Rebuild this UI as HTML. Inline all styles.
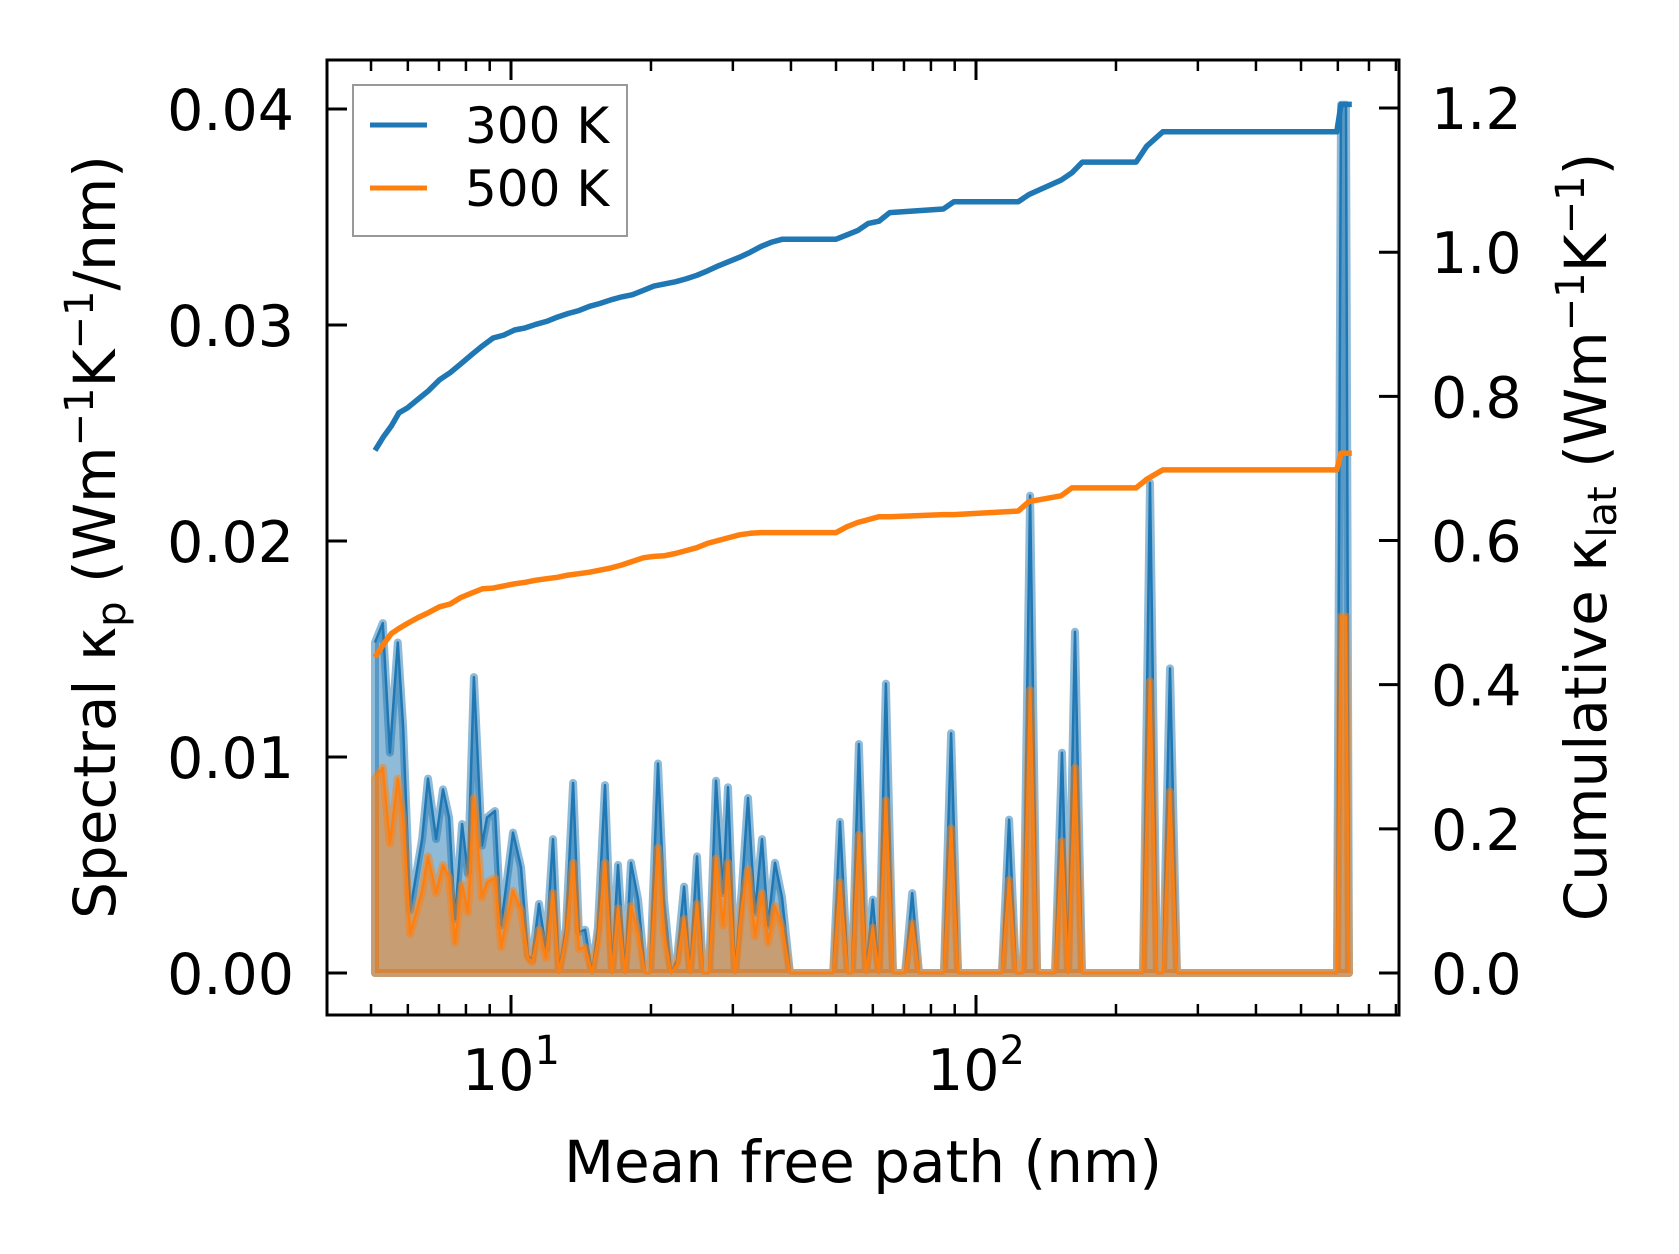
<!DOCTYPE html>
<html><head><meta charset="utf-8"><style>
body{margin:0;background:#fff}
svg{display:block;font-family:"DejaVu Sans","Liberation Sans",sans-serif}
</style></head><body>
<svg id="chart" width="1679" height="1254" viewBox="0 0 1679 1254">
<rect width="1679" height="1254" fill="#fff"/>
<g id="marks"></g>
<g id="axes"></g>
<g>
<rect x="353" y="85" width="274" height="151" fill="#fff" fill-opacity="0.8" stroke="#999" stroke-width="2"/>
<line x1="370" y1="125" x2="427" y2="125" stroke="#1f77b4" stroke-width="5"/>
<text x="465" y="143" font-size="50">300 K</text>
<line x1="370" y1="188" x2="427" y2="188" stroke="#ff7f0e" stroke-width="5"/>
<text x="465" y="206" font-size="50">500 K</text>
</g>
<text x="863" y="1182" font-size="58" text-anchor="middle">Mean free path (nm)</text>
<text transform="translate(115,537) rotate(-90)" font-size="58" text-anchor="middle">Spectral κ<tspan font-size="40" dy="10">p</tspan><tspan dy="-10"> (Wm</tspan><tspan font-size="40" dy="-22">−1</tspan><tspan dy="22">K</tspan><tspan font-size="40" dy="-22">−1</tspan><tspan dy="22">/nm)</tspan></text>
<text transform="translate(1606,537) rotate(-90)" font-size="58" text-anchor="middle">Cumulative κ<tspan font-size="40" dy="10">lat</tspan><tspan dy="-10"> (Wm</tspan><tspan font-size="40" dy="-22">−1</tspan><tspan dy="22">K</tspan><tspan font-size="40" dy="-22">−1</tspan><tspan dy="22">)</tspan></text>
</svg>
<script>
// spectral data (shared MFP grid, nm)
const specMfp = [5.10,5.30,5.49,5.71,5.86,6.07,6.44,6.63,6.90,7.14,7.36,7.58,7.85,8.08,8.32,8.66,8.88,9.24,9.52,10.10,10.51,10.88,11.10,11.49,11.89,12.31,12.68,13.13,13.60,14.00,14.43,14.94,15.38,15.93,16.49,16.99,17.59,18.12,18.76,19.42,19.90,20.71,21.33,22.09,22.75,23.56,24.27,25.12,25.88,26.66,27.60,28.58,29.29,30.32,31.39,32.34,33.48,34.66,35.71,36.97,38.27,39.81,
49.3,51.0,53.0,54.1,56.0,58.0,60.0,61.8,64.0,66.3,70.4,72.9,75.4,85.3,88.4,91.5,113.7,117.8,121.9,126.2,130.7,135.3,147.9,153.1,157.7,163.3,169.0,228.6,236.7,245.0,252.4,261.3,270.6,597.5,609.4,624.8,634.2];
const spec300 = [0.0153,0.0162,0.0102,0.0153,0.0114,0.0029,0.0062,0.0090,0.0062,0.0085,0.0072,0.0025,0.0069,0.0046,0.0137,0.0059,0.0072,0.0075,0.0022,0.0065,0.0049,0.0008,0.0006,0.0032,0.0011,0.0062,0.0001,0.0021,0.0088,0.0019,0.0020,0.0,0.0021,0.0087,0.0,0.0050,0.0,0.0051,0.0034,0.0,0.0,0.0097,0.0034,0.0,0.0006,0.0040,0.0,0.0054,0.0,0.0,0.0089,0.0037,0.0086,0.0,0.0040,0.0081,0.0028,0.0062,0.0022,0.0051,0.0035,0.0,
0.0,0.0070,0.0,0.0,0.0106,0.0,0.0034,0.0,0.0134,0.0,0.0,0.0037,0.0,0.0,0.0111,0.0,0.0,0.0071,0.0,0.0,0.0221,0.0,0.0,0.0102,0.0,0.0158,0.0,0.0,0.0227,0.0,0.0,0.0141,0.0,0.0,0.0402,0.0402,0.0];
const spec500 = [0.0090,0.0095,0.0060,0.0090,0.0071,0.0018,0.0038,0.0054,0.0037,0.0050,0.0044,0.0014,0.0041,0.0028,0.0081,0.0035,0.0042,0.0044,0.0012,0.0038,0.0029,0.0007,0.0005,0.0020,0.0007,0.0037,0.0,0.0017,0.0051,0.0011,0.0012,0.0,0.0015,0.0051,0.0,0.0030,0.0,0.0031,0.0018,0.0,0.0,0.0058,0.0018,0.0,0.0004,0.0025,0.0,0.0032,0.0,0.0,0.0053,0.0022,0.0051,0.0,0.0031,0.0048,0.0017,0.0037,0.0014,0.0031,0.0021,0.0,
0.0,0.0042,0.0,0.0,0.0064,0.0,0.0021,0.0,0.0080,0.0,0.0,0.0023,0.0,0.0,0.0067,0.0,0.0,0.0043,0.0,0.0,0.0131,0.0,0.0,0.0061,0.0,0.0095,0.0,0.0,0.0135,0.0,0.0,0.0084,0.0,0.0,0.0165,0.0165,0.0];
// cumulative data
const cumMfp = [5.10,5.32,5.53,5.74,5.99,6.31,6.65,7.02,7.40,7.80,8.23,8.68,9.15,9.65,10.18,10.73,11.32,11.93,12.58,13.27,13.99,14.76,15.56,16.41,17.30,18.25,19.24,20.29,21.40,22.56,23.79,25.09,26.45,27.90,29.42,31.02,32.71,34.50,36.38,38.36,50.02,52.75,55.63,58.66,61.85,65.22,85.06,89.70,123.3,130.0,152.4,160.7,169.4,220.9,232.9,252.2,597.0,609.4,643.0];
const cum300 = [0.725,0.744,0.759,0.777,0.784,0.796,0.808,0.823,0.833,0.845,0.858,0.870,0.881,0.885,0.892,0.895,0.900,0.904,0.910,0.915,0.919,0.925,0.929,0.934,0.938,0.941,0.947,0.953,0.956,0.959,0.963,0.968,0.974,0.981,0.987,0.993,1.000,1.008,1.014,1.018,1.018,1.024,1.030,1.040,1.043,1.055,1.060,1.070,1.070,1.080,1.100,1.110,1.125,1.125,1.147,1.167,1.167,1.205,1.205];
const cum500 = [0.438,0.456,0.471,0.478,0.485,0.493,0.500,0.508,0.512,0.521,0.527,0.533,0.534,0.537,0.540,0.542,0.545,0.547,0.549,0.552,0.554,0.556,0.559,0.562,0.566,0.571,0.576,0.578,0.579,0.582,0.586,0.590,0.596,0.600,0.604,0.608,0.610,0.611,0.611,0.611,0.611,0.619,0.625,0.629,0.633,0.633,0.636,0.636,0.641,0.654,0.662,0.673,0.673,0.673,0.685,0.698,0.698,0.721,0.721];
const leftTicks = [0,0.01,0.02,0.03,0.04];
const leftTickLabels = ["0.00","0.01","0.02","0.03","0.04"];
const rightTicks = [0,0.2,0.4,0.6,0.8,1.0,1.2];
const rightTickLabels = ["0.0","0.2","0.4","0.6","0.8","1.0","1.2"];
const xMajor = [10,100];
const xMajorExp = ["1","2"];
const xMinor = [5,6,7,8,9,20,30,40,50,60,70,80,90,200,300,400,500,600,700,800];

const L=327,R=1399,T=60,B=1015;
const xs = v => 511 + 465*(Math.log10(v)-1);
const yl = v => 973 - v*21600;
const yr = v => 973 - v*720.8;
const NS="http://www.w3.org/2000/svg";
const marks=document.getElementById('marks'), axes=document.getElementById('axes');
function mk(tag,attrs,parent){const e=document.createElementNS(NS,tag);for(const k in attrs)e.setAttribute(k,attrs[k]);parent.appendChild(e);return e;}
function pts(xa,ya,fy){return xa.map((x,i)=>xs(x).toFixed(1)+','+fy(ya[i]).toFixed(1)).join(' ');}
function area(xa,ya){const p=pts(xa,ya,yl);return xs(xa[0]).toFixed(1)+','+yl(0)+' '+p+' '+xs(xa[xa.length-1]).toFixed(1)+','+yl(0);}

let e;
e=mk('polygon',{points:area(specMfp,spec300),fill:'#1f77b4','fill-opacity':0.5,stroke:'#1f77b4','stroke-opacity':0.5,'stroke-width':8,'stroke-linejoin':'round'},marks);


e=mk('polyline',{points:pts(specMfp,spec300,yl),fill:'none',stroke:'#1f77b4','stroke-width':2.5,'stroke-linejoin':'round'},marks);


e=mk('polygon',{points:area(specMfp,spec500),fill:'#ff7f0e','fill-opacity':0.5,stroke:'#ff7f0e','stroke-opacity':0.5,'stroke-width':8,'stroke-linejoin':'round'},marks);


e=mk('polyline',{points:pts(specMfp,spec500,yl),fill:'none',stroke:'#ff7f0e','stroke-width':2.5,'stroke-linejoin':'round'},marks);


e=mk('polyline',{points:pts(cumMfp,cum300,yr),fill:'none',stroke:'#1f77b4','stroke-width':5.5,'stroke-linejoin':'round'},marks);


e=mk('polyline',{points:pts(cumMfp,cum500,yr),fill:'none',stroke:'#ff7f0e','stroke-width':5.5,'stroke-linejoin':'round'},marks);



// ticks
leftTicks.forEach((v,i)=>{const y=yl(v);
 let t=mk('line',{x1:L,y1:y,x2:L+20,y2:y,stroke:'#000','stroke-width':3},axes);
 
 
 let tx=mk('text',{x:294,y:y+21,'font-size':57,'text-anchor':'end'},axes);tx.textContent=leftTickLabels[i];
 
 
});
rightTicks.forEach((v,i)=>{const y=yr(v);
 let t=mk('line',{x1:R-20,y1:y,x2:R,y2:y,stroke:'#000','stroke-width':3},axes);
 
 
 let tx=mk('text',{x:1431,y:y+21,'font-size':57},axes);tx.textContent=rightTickLabels[i];
 
 
});
xMajor.forEach((v,i)=>{const x=xs(v);
 let t=mk('line',{x1:x,y1:B,x2:x,y2:B-20,stroke:'#000','stroke-width':3},axes);
 
 
 t=mk('line',{x1:x,y1:T,x2:x,y2:T+20,stroke:'#000','stroke-width':3},axes);
 
 
 let tx=mk('text',{x:x,y:1090,'font-size':57,'text-anchor':'middle'},axes);
 
 
 tx.textContent='10';
 let s=mk('tspan',{'font-size':40,dy:-26},tx);s.textContent=xMajorExp[i];
});
xMinor.forEach(v=>{const x=xs(v); if(x<L||x>R)return;
 let t=mk('line',{x1:x,y1:B,x2:x,y2:B-11,stroke:'#000','stroke-width':2.5},axes);
 
 
 t=mk('line',{x1:x,y1:T,x2:x,y2:T+11,stroke:'#000','stroke-width':2.5},axes);
 
 
});
let f=mk('rect',{x:L,y:T,width:R-L,height:B-T,fill:'none',stroke:'#000','stroke-width':3},axes);


</script>
</body></html>
